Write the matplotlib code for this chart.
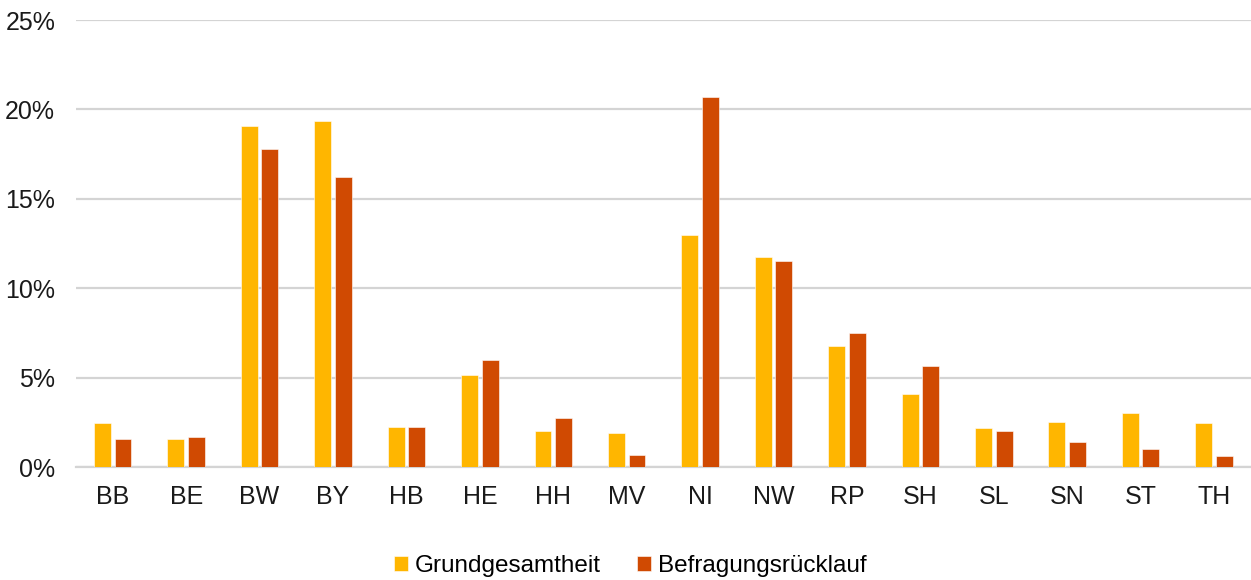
import numpy as np
import matplotlib
matplotlib.use("Agg")
import matplotlib.pyplot as plt
from matplotlib.ticker import FuncFormatter

plt.rcParams["font.family"] = ["Liberation Sans", "DejaVu Sans"]

laender = ["BB", "BE", "BW", "BY", "HB", "HE", "HH", "MV",
           "NI", "NW", "RP", "SH", "SL", "SN", "ST", "TH"]
grundgesamtheit = [2.49, 1.56, 19.05, 19.35, 2.27, 5.14, 2.04, 1.92,
                   12.96, 11.73, 6.79, 4.12, 2.20, 2.55, 3.06, 2.48]
ruecklauf = [1.56, 1.69, 17.77, 16.20, 2.28, 5.99, 2.77, 0.69,
             20.72, 11.53, 7.49, 5.68, 2.05, 1.40, 1.04, 0.61]

YELLOW, RED = "#FFB600", "#D04A02"
GRID = "#d4d4d4"

fig = plt.figure(figsize=(12.51, 5.8), dpi=100)
ax = fig.add_axes([0.0608, 0.1943, 0.939, 0.7712])

x = np.arange(len(laender))
w = 0.23
ax.bar(x - 0.14, grundgesamtheit, w, color=YELLOW, label="Grundgesamtheit",
       edgecolor="white", linewidth=0.4, zorder=3)
ax.bar(x + 0.14, ruecklauf, w, color=RED, label="Befragungsrücklauf",
       edgecolor="white", linewidth=0.4, zorder=3)

ax.set_xlim(-0.5, len(laender) - 0.5)
ax.set_ylim(0, 25)
ax.set_yticks(range(0, 26, 5))
ax.yaxis.set_major_formatter(FuncFormatter(lambda v, _: f"{v:.0f}%"))
ax.set_xticks(x)
ax.set_xticklabels(laender)
ax.tick_params(axis="both", length=0, labelsize=18, colors="#1a1a1a")
ax.tick_params(axis="x", pad=13)
ax.tick_params(axis="y", pad=15)
ax.grid(axis="y", color=GRID, lw=1.6, zorder=0)
for s in ["top", "right", "left"]:
    ax.spines[s].set_visible(False)
ax.spines["bottom"].set_color(GRID)
ax.spines["bottom"].set_linewidth(1.6)

fig.legend(loc="center", bbox_to_anchor=(0.504, 0.024), ncol=2, frameon=False,
           fontsize=17.5, handlelength=0.55, handleheight=0.55, handletextpad=0.3,
           columnspacing=1.5)

fig.savefig("out.png", dpi=100)
